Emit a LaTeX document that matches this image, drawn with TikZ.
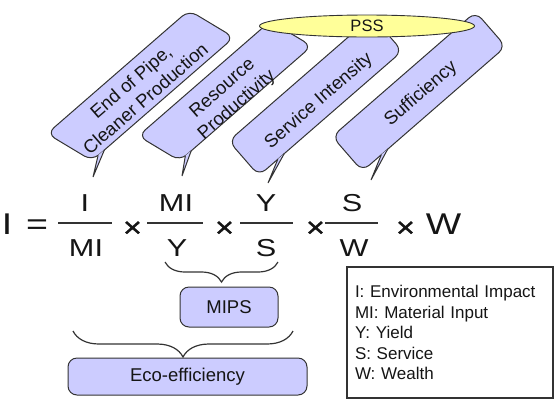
\documentclass[tikz,border=0pt]{standalone}
\usepackage{fontspec}
\setmainfont{Liberation Sans}
\newfontfamily\eqfont[FakeStretch=1.25]{Liberation Sans}
\newfontfamily\eqopfont[FakeStretch=1.15, FakeBold=1.2]{Liberation Sans}
\usetikzlibrary{shapes.geometric, decorations.pathreplacing, calc}
\definecolor{ebfill}{HTML}{CCCCFF}
\definecolor{ebpss}{HTML}{FFFF99}
\definecolor{ebline}{HTML}{333333}
\definecolor{ebtext}{HTML}{151515}

\begin{document}
\begin{tikzpicture}[
  x=1pt, y=-1pt,
  every node/.style={text=ebtext},
  callbox/.style={rectangle, rounded corners=9pt, fill=ebfill, draw=ebline, line width=1pt, rotate=41, xslant=#1, minimum height=48pt, inner sep=0pt},
  callbox/.default=0,
  calltext/.style={rotate=41, align=center, inner sep=0pt, font=\fontsize{18.5}{22}\selectfont},
  tail/.style={fill=ebfill, draw=ebline, line width=1pt, line join=miter},
  pss/.style={ellipse, fill=ebpss, draw=ebline, line width=0.9pt, minimum width=215pt, minimum height=22pt, inner sep=0pt, font=\fontsize{16.5}{18}\selectfont},
  eqbig/.style={anchor=base, inner sep=0pt, font=\eqfont\fontsize{30}{32}\selectfont},
  eqsmall/.style={anchor=base, inner sep=0pt, font=\eqfont\fontsize{24.5}{26}\selectfont},
  eqtimes/.style={anchor=base, inner sep=0pt, font=\eqopfont\fontsize{28}{30}\selectfont},
  fracbar/.style={draw=ebline, line width=1.8pt},
  groupbox/.style={rectangle, rounded corners=9pt, fill=ebfill, draw=ebline, line width=1pt, font=\fontsize{18.5}{22}\selectfont},
  groupbrace/.style={draw=ebline, line width=1.2pt, decorate, decoration={brace, mirror, amplitude=#1}},
]
\useasboundingbox (0,0) rectangle (556,400);

% strategy callouts
\node[callbox=-0.325, minimum width=188pt, minimum height=50pt] (c1) at (140.5,85.5) {};
\node[calltext] (c1t) at (138,90) {End of Pipe,\\Cleaner Production};
\coordinate (t1) at (93,177);
\filldraw[tail] ($(c1.south west)!0.04!(c1.south east)!1pt!(c1.north)$) -- (t1) -- ($(c1.south west)!0.085!(c1.south east)!1pt!(c1.north)$);

\node[callbox=-0.325, minimum width=175pt, minimum height=46pt] (c2) at (225,91) {};
\node[calltext] (c2t) at (230,97) {Resource\\Productivity};
\coordinate (t2) at (182,176);
\filldraw[tail] ($(c2.south west)!0.04!(c2.south east)!1pt!(c2.north)$) -- (t2) -- ($(c2.south west)!0.085!(c2.south east)!1pt!(c2.north)$);

\node[callbox, minimum width=190pt, minimum height=46pt] (c3) at (315.5,96) {};
\node[calltext] (c3t) at (319,101) {Service Intensity};
\coordinate (t3) at (268,183);
\filldraw[tail] ($(c3.south west)!0.13!(c3.south east)!1pt!(c3.north)$) -- (t3) -- ($(c3.south west)!0.175!(c3.south east)!1pt!(c3.north)$);

\node[callbox, minimum width=190pt, minimum height=46pt] (c4) at (419,91.5) {};
\node[calltext] (c4t) at (421,94) {Sufficiency};
\coordinate (t4) at (371,180);
\filldraw[tail] ($(c4.south west)!0.13!(c4.south east)!1pt!(c4.north)$) -- (t4) -- ($(c4.south west)!0.175!(c4.south east)!1pt!(c4.north)$);

\node[pss] (pss) at (367,26) {PSS};

% the equation
\node[eqbig] (lhs) at (7,234) {I};
\node[eqbig] (eq) at (37,234.5) {=};
\node[eqsmall] (n1) at (85,211) {I};
\node[eqsmall] (d1) at (86,256) {MI};
\draw[fracbar] (58,223) -- (112,223);
\node[eqtimes] (x1) at (132.5,237) {×};
\node[eqsmall] (n2) at (176,211) {MI};
\node[eqsmall] (d2) at (177,256) {Y};
\draw[fracbar] (147,223) -- (203,223);
\node[eqtimes] (x2) at (224.5,237) {×};
\node[eqsmall] (n3) at (266,211) {Y};
\node[eqsmall] (d3) at (266,256) {S};
\draw[fracbar] (240,223) -- (293,223);
\node[eqtimes] (x3) at (315.5,237) {×};
\node[eqsmall] (n4) at (352,211) {S};
\node[eqsmall] (d4) at (354,256) {W};
\draw[fracbar] (325,223) -- (378,223);
\node[eqtimes] (x4) at (405.5,237) {×};
\node[eqbig] (w) at (443.5,234) {W};

% groupings
\draw[groupbrace=20pt] (165,262) -- (278,262);
\node[groupbox, minimum width=98pt, minimum height=40pt] (mips) at (229,307) {MIPS};
\draw[groupbrace=26pt] (73,331) -- (293,331);
\node[groupbox, minimum width=239pt, minimum height=37pt] (eco) at (187.5,376.5) {Eco-efficiency};

% legend
\node[draw=ebline, line width=1.1pt, text width=190pt, inner xsep=8pt, minimum height=131pt, align=left, font=\fontsize{17}{20.5}\selectfont] (legend) at (450,332.5) {I: Environmental Impact\\MI: Material Input\\Y: Yield\\S: Service\\W: Wealth};
\end{tikzpicture}
\end{document}
